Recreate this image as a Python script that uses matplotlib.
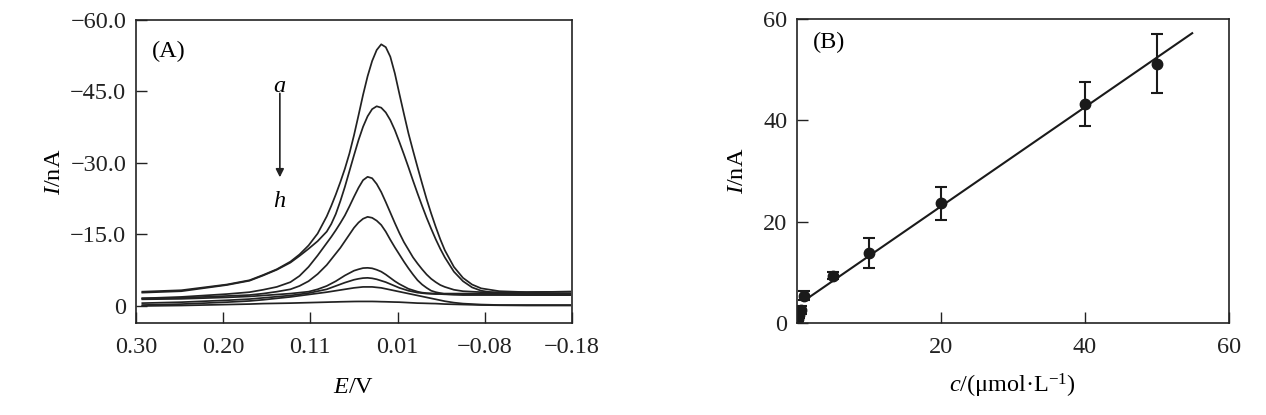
import matplotlib
matplotlib.use("Agg")
import matplotlib.pyplot as plt

plt.rcParams['font.family'] = ['Liberation Serif', 'DejaVu Serif']
plt.rcParams['mathtext.fontset'] = 'custom'
plt.rcParams['mathtext.rm'] = 'Liberation Serif'
plt.rcParams['mathtext.it'] = 'Liberation Serif:italic'
plt.rcParams['axes.unicode_minus'] = True

# (A) DPV curves a-h, potential in V, current in nA
E = [0.293, 0.25, 0.20, 0.175, 0.16, 0.145, 0.13, 0.12, 0.11, 0.10, 0.09, 0.085, 0.08, 0.075,
     0.07, 0.065, 0.06, 0.055, 0.05, 0.045, 0.04, 0.035, 0.03, 0.025, 0.02, 0.015, 0.01, 0.005,
     0.0, -0.005, -0.01, -0.015, -0.02, -0.025, -0.03, -0.035, -0.04, -0.05, -0.06, -0.07,
     -0.08, -0.10, -0.13, -0.178]
cur_a = [-3.0, -3.3, -4.5, -5.4, -6.5, -7.7, -9.3, -10.8, -12.7, -15.2, -18.8, -21.0, -23.4, -26.0,
         -28.8, -32.0, -35.8, -40.0, -44.3, -48.2, -51.4, -53.7, -54.9, -54.3, -52.3, -48.8, -44.5, -40.3,
         -36.2, -32.6, -29.1, -25.7, -22.4, -19.4, -16.6, -14.0, -11.7, -8.2, -5.9, -4.5,
         -3.7, -3.1, -2.9, -3.0]
cur_b = [-2.8, -3.1, -4.4, -5.3, -6.4, -7.6, -9.1, -10.5, -12.0, -13.6, -15.6, -17.2, -19.3, -22.0,
         -25.0, -28.3, -31.6, -34.8, -37.6, -39.8, -41.3, -41.9, -41.6, -40.6, -39.0, -36.9, -34.4, -31.8,
         -29.1, -26.3, -23.6, -21.0, -18.5, -16.2, -14.0, -12.0, -10.2, -7.2, -5.2, -3.9,
         -3.2, -2.6, -2.4, -2.3]
cur_c = [-1.6, -1.9, -2.5, -2.9, -3.4, -4.0, -5.0, -6.3, -8.2, -10.6, -13.2, -14.5, -15.9, -17.4,
         -19.0, -20.9, -22.9, -24.8, -26.4, -27.1, -26.8, -25.6, -23.9, -21.8, -19.6, -17.4, -15.3, -13.4,
         -11.8, -10.2, -8.9, -7.7, -6.6, -5.7, -5.0, -4.4, -4.0, -3.4, -3.1, -3.0,
         -2.9, -2.9, -2.9, -3.0]
cur_d = [-1.6, -1.7, -2.1, -2.3, -2.6, -3.0, -3.5, -4.2, -5.2, -6.7, -8.6, -9.8, -11.0, -12.2,
         -13.6, -15.0, -16.4, -17.5, -18.3, -18.7, -18.5, -17.9, -17.0, -15.6, -13.9, -12.3, -10.8, -9.3,
         -7.9, -6.6, -5.4, -4.5, -3.8, -3.2, -2.9, -2.7, -2.5, -2.4, -2.3, -2.3,
         -2.3, -2.3, -2.3, -2.3]
cur_e = [-1.4, -1.5, -1.8, -2.0, -2.2, -2.4, -2.6, -2.8, -3.0, -3.5, -4.2, -4.7, -5.2, -5.8,
         -6.4, -6.9, -7.4, -7.7, -7.95, -8.0, -7.9, -7.6, -7.2, -6.6, -5.9, -5.2, -4.6, -4.1,
         -3.6, -3.3, -3.0, -2.8, -2.7, -2.65, -2.6, -2.6, -2.6, -2.6, -2.6, -2.6,
         -2.6, -2.6, -2.6, -2.6]
cur_f = [-0.6, -0.8, -1.2, -1.45, -1.7, -1.95, -2.2, -2.45, -2.7, -3.1, -3.5, -3.85, -4.2, -4.55,
         -4.9, -5.2, -5.5, -5.7, -5.85, -5.9, -5.8, -5.6, -5.3, -5.0, -4.6, -4.2, -3.8, -3.5,
         -3.2, -3.0, -2.8, -2.7, -2.6, -2.55, -2.5, -2.5, -2.45, -2.4, -2.4, -2.4,
         -2.4, -2.4, -2.3, -2.3]
cur_g = [-0.2, -0.4, -0.8, -1.05, -1.3, -1.6, -1.9, -2.15, -2.4, -2.65, -2.9, -3.05, -3.2, -3.35,
         -3.5, -3.65, -3.8, -3.9, -4.0, -4.0, -4.0, -3.9, -3.8, -3.6, -3.4, -3.2, -3.0, -2.8,
         -2.6, -2.4, -2.2, -2.0, -1.8, -1.6, -1.4, -1.2, -1.0, -0.7, -0.5, -0.4,
         -0.3, -0.2, -0.2, -0.2]
cur_h = [0.0, -0.1, -0.3, -0.4, -0.5, -0.55, -0.6, -0.65, -0.7, -0.75, -0.8, -0.83, -0.85, -0.88,
         -0.9, -0.92, -0.94, -0.95, -0.95, -0.95, -0.95, -0.93, -0.9, -0.88, -0.85, -0.82, -0.8, -0.75,
         -0.7, -0.65, -0.6, -0.58, -0.55, -0.52, -0.5, -0.45, -0.4, -0.35, -0.3, -0.25,
         -0.2, -0.15, -0.1, -0.1]
curves = [cur_a, cur_b, cur_c, cur_d, cur_e, cur_f, cur_g, cur_h]

xticks_a = [0.30, 0.204, 0.108, 0.012, -0.084, -0.18]
xlabels_a = ['0.30', '0.20', '0.11', '0.01', '\u22120.08', '\u22120.18']
yticks_a = [-60, -45, -30, -15, 0]
ylabels_a = ['\u221260.0', '\u221245.0', '\u221230.0', '\u221215.0', '0']

# (B) calibration, c in umol/L, I in nA
conc = [0.1, 0.3, 0.5, 1, 5, 10, 20, 40, 50]
peak_i = [0.7, 1.5, 2.6, 5.4, 9.3, 13.8, 23.6, 43.2, 51.2]
err_i = [0.4, 0.6, 0.8, 0.9, 0.7, 3.0, 3.2, 4.3, 5.9]
fit_c = [1.0, 54.9]
fit_i = [4.4, 57.2]

fs = 17.5
fig = plt.figure(figsize=(12.66, 4.15), dpi=100)

ax1 = fig.add_axes([0.1074, 0.2217, 0.3444, 0.7301])
for ys in curves:
    ax1.plot(E, ys, color='#222222', lw=1.25)
ax1.set_xlim(0.30, -0.18)
ax1.set_ylim(3.57, -60)
ax1.set_xticks(xticks_a)
ax1.set_xticklabels(xlabels_a)
ax1.set_yticks(yticks_a)
ax1.set_yticklabels(ylabels_a)
ax1.set_xlabel(r'$E$/V', fontsize=fs, labelpad=14)
ax1.set_ylabel(r'$I$/nA', fontsize=fs, labelpad=4)
ax1.text(0.283, -53.3, '(A)', fontsize=fs, va='center', ha='left')
ax1.text(0.1416, -46.0, r'$a$', fontsize=fs, ha='center', va='center')
ax1.text(0.1416, -21.9, r'$h$', fontsize=fs, ha='center', va='center')
ax1.annotate('', xy=(0.1416, -27.0), xytext=(0.1416, -44.6),
             arrowprops=dict(arrowstyle='-|>', color='#222222', lw=1.2,
                             mutation_scale=12, shrinkA=0, shrinkB=0))

ax2 = fig.add_axes([0.6295, 0.2217, 0.3412, 0.7325])
ax2.errorbar(conc, peak_i, yerr=err_i, fmt='o', color='#1a1a1a', ms=7.5,
             capsize=4, elinewidth=1.5, capthick=1.5)
ax2.plot(fit_c, fit_i, color='#1a1a1a', lw=1.5)
ax2.set_xlim(0, 60)
ax2.set_ylim(0, 60)
ax2.set_xticks([20, 40, 60])
ax2.set_yticks([0, 20, 40, 60])
ax2.set_xlabel(r'$c$/(μmol·L$^{-1}$)', fontsize=fs, labelpad=10)
ax2.set_ylabel(r'$I$/nA', fontsize=fs, labelpad=11)
ax2.text(2.2, 55.3, '(B)', fontsize=fs, va='center', ha='left')

for ax in (ax1, ax2):
    for sp in ax.spines.values():
        sp.set_linewidth(1.2)
        sp.set_color('#222222')
    ax.tick_params(direction='in', length=8, width=1.0, labelsize=fs,
                   top=False, right=False, colors='#222222')
    ax.tick_params(axis='x', pad=10)
    ax.tick_params(axis='y', pad=7)

fig.savefig('out.png', dpi=100)
